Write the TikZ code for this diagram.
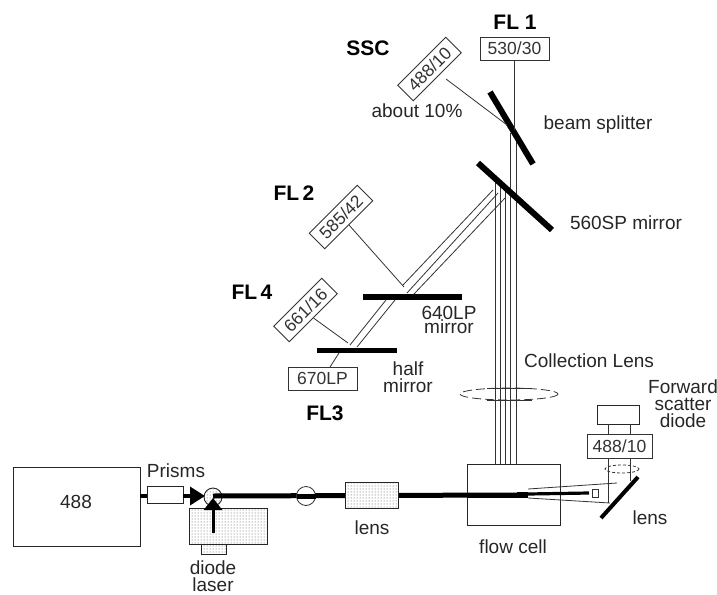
\documentclass[tikz,border=0pt]{standalone}
\usepackage{fontspec}
\setmainfont{Liberation Sans}
\usetikzlibrary{patterns,arrows.meta}
\tikzset{
    filterbox/.style={draw=black!80, line width=0.9pt, fill=white, inner sep=0pt, minimum width=68pt, minimum height=22pt, font=\fontsize{17.5}{19}\selectfont, text=black!80},
    labeltext/.style={inner sep=0pt, align=center, text=black!85, font=\fontsize{19}{17}\selectfont},
    fltext/.style={inner sep=0pt, font=\fontsize{21}{23}\selectfont\bfseries},
    beamline/.style={draw=black!80, line width=0.8pt},
    mirrorbar/.style={line width=6pt, black},
    stipple/.style={draw=black!85, line width=0.9pt, pattern=dots, pattern color=black!70}
}
\begin{document}
\begin{tikzpicture}[x=1pt, y=-1pt]
    \useasboundingbox (0,0) rectangle (717,594);

    % Lasers and prism
    \node (argon) at (76.5,506.5) [draw=black!85, line width=0.9pt, minimum width=127pt, minimum height=79pt, inner sep=0pt] {};
    \node (argontext) at (76,502) [labeltext] {488};
    \node (prisms) at (165,494.5) [draw=black!85, line width=0.9pt, minimum width=36pt, minimum height=17pt, inner sep=0pt] {};
    \node (prismstext) at (176,471) [labeltext] {Prisms};
    \draw[line width=4pt] (argon.east |- 0,496) -- (prisms.west |- 0,496);
    \draw[stipple] (213,497) circle (9);
    \draw[stipple] (189,508) rectangle (267,544);
    \draw[stipple] (201,544) rectangle (226,554);
    \node (diodetext) at (213,576) [labeltext] {diode\\laser};
    \node (lenstext) at (372,528) [labeltext] {lens};

    % Main beam
    \draw[line width=5pt] (213,496) -- (517,495);
    \draw[black, line width=3.5pt, -{Triangle[length=15pt, width=18pt]}] (prisms.east |- 0,496) -- (205,496);
    \draw[black, line width=3pt, -{Triangle[length=12pt, width=18pt]}] (213,533) -- (213,498);
    \draw[beamline, fill=white] (306,496) circle (9.5);
    \draw[line width=5pt] (296.5,496) -- (315.5,496);
    \draw[draw=black!85, line width=0.9pt, fill=white] (345,482) rectangle (398,508);
    \draw[stipple] (345,482) rectangle (398,508);

    % Flow cell
    \node (flowcell) at (513.5,494.5) [draw=black!85, line width=0.9pt, minimum width=93pt, minimum height=61pt, inner sep=0pt] {};
    \node (flowtext) at (513,547) [labeltext] {flow cell};
    \draw[line width=5pt] (467,495) -- (517,495);
    \draw[line width=6pt] (517,494.5) -- (528,494.5);
    \draw[line width=3.2pt] (528,494) -- (589,493);
    \draw[beamline, fill=white] (592,489) rectangle (598,497);

    % Forward scatter path
    \draw[beamline] (528,489) -- (617,483);
    \draw[beamline] (528,498) -- (610,503);
    \draw[mirrorbar, line width=4pt] (601,518) -- (638,477);
    \node (fsbox) at (619.5,446) [filterbox, minimum width=65pt, minimum height=24pt] {488/10};
    \node (fsdiode) at (618,414.5) [draw=black!85, line width=0.9pt, minimum width=42pt, minimum height=19pt, inner sep=0pt] {};
    \draw[beamline] (608,458) -- (608,503);
    \draw[beamline] (630,458) -- (630,481);
    \draw[beamline] (608,424) -- (608,434);
    \draw[beamline] (630,424) -- (630,434);
    \draw[beamline, densely dashed] (622,469) ellipse (17 and 4);
    \node (fstext) at (683,404) [labeltext] {Forward\\scatter\\diode};
    \node (fslens) at (650,518) [labeltext] {lens};

    % Vertical beams
    \draw[beamline] (495,464) -- (495,178);
    \draw[beamline] (500,464) -- (500,183);
    \draw[beamline] (505.5,464) -- (505.5,188);
    \draw[beamline] (510.5,464) -- (510.5,133);
    \draw[beamline] (516.5,464) -- (516.5,133);

    % Collection lens
    \draw[beamline, dash pattern=on 9pt off 4pt] (509,394) ellipse (49 and 6);
    \draw[beamline] (487,388) -- (532,388);
    \draw[beamline] (487,400) -- (532,400);
    \node (colltext) at (589,361) [labeltext] {Collection Lens};

    % Mirrors on the upper path
    \draw[mirrorbar] (478,163) -- (552,230);
    \draw[mirrorbar] (490,92) -- (533,164);
    \node (fpsplit) at (598,125) [labeltext] {beam splitter};
    \node (fpmirror) at (626,223) [labeltext] {560SP mirror};

    % FL1 and SSC
    \node (flonebox) at (514.5,48.5) [filterbox, minimum width=69pt, minimum height=23pt] {530/30};
    \node (flonetext) at (515,22) [fltext] {FL 1};
    \draw[beamline] (514,60) -- (514,130);
    \node (sscbox) at (429.5,69) [filterbox, rotate=45] {488/10};
    \node (ssctext) at (368,48) [fltext] {SSC};
    \node (abouttext) at (417,111) [labeltext] {about 10\%};
    \draw[beamline] (446,79) -- (507,125);

    % Side beams
    \draw[beamline] (493,190) -- (403,285);
    \draw[beamline] (498,193) -- (407,293);
    \draw[beamline] (505,198) -- (414,294);
    \draw[beamline] (386,300) -- (350,345);
    \draw[beamline] (395,300) -- (357,347);
    \draw[mirrorbar] (363,297) -- (462,297);
    \draw[mirrorbar, line width=5pt] (317,350) -- (397,350);
    \node (mirrortext) at (449,320) [labeltext, font=\fontsize{19}{14}\selectfont] {640LP\\mirror};
    \node (halftext) at (408,377) [labeltext] {half\\mirror};

    % FL2, FL3, FL4
    \node (fltwobox) at (341,217) [filterbox, rotate=45] {585/42};
    \node (fltwotext) at (294,193) [fltext] {FL\,2};
    \draw[beamline] (fltwobox.south) -- (404,287);
    \node (flfourbox) at (305.5,310) [filterbox, rotate=45] {661/16};
    \node (flfourtext) at (252,292) [fltext] {FL\,4};
    \draw[beamline] (flfourbox.south) -- (348,343);
    \node (flthreebox) at (322.5,378.5) [filterbox, minimum width=69pt, minimum height=23pt] {670LP};
    \node (flthreetext) at (325,413) [fltext] {FL3};
    \draw[beamline] (339,353) -- (330,367);
\end{tikzpicture}
\end{document}
